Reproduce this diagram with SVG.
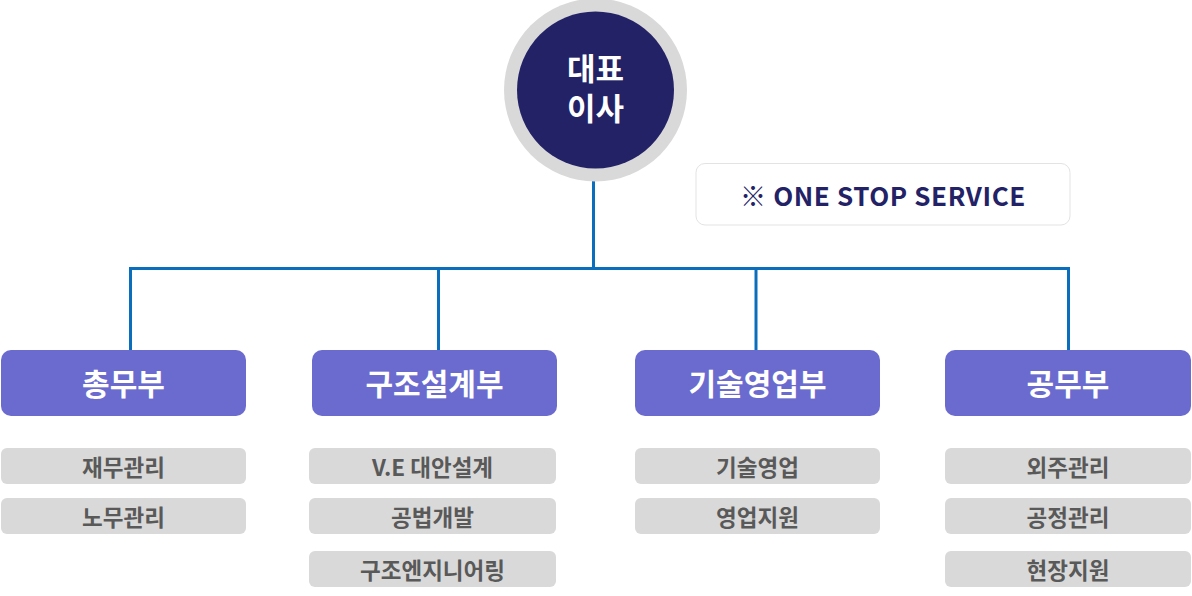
<svg xmlns="http://www.w3.org/2000/svg" width="1192" height="596" viewBox="0 0 1192 596">
<style>
text{font-family:"Noto Sans CJK KR","Noto Sans",sans-serif;font-weight:700;text-anchor:middle;dominant-baseline:central}
.dept rect{fill:#6b6bcf}
.dept text{fill:#fff;font-size:30px}
.sub rect{fill:#d9d9d9}
.sub text{fill:#595959;font-size:22.5px}
.conn{stroke:#0a6ebd;stroke-width:3;fill:none}
.ceo{fill:#fff;font-size:31px;font-family:"Liberation Sans","Noto Sans CJK KR",sans-serif}
</style>
<rect width="1192" height="596" fill="#fff"/>
<g id="connectors">
<path class="conn" d="M593.5 178 V268.5 M130.5 350 V268.5 H1068.5 V350 M438.5 268.5 V350 M756 268.5 V350"/>
</g>
<g id="ceo">
<circle cx="595.5" cy="90" r="91.5" fill="#d9d9d9"/>
<circle cx="595.5" cy="90" r="78.5" fill="#232266"/>
<text class="ceo" x="595.5" y="69">대표</text>
<text class="ceo" x="595.5" y="109">이사</text>
</g>
<g id="onestop">
<rect x="696" y="163.5" width="374" height="61.5" rx="9" fill="#fff" stroke="#e3e3e3" stroke-width="1"/>
<text x="883" y="194" fill="#232266" font-size="26" letter-spacing="0.6" font-family="'Noto Sans','Noto Sans CJK KR',sans-serif">※ ONE STOP SERVICE</text>
</g>
<g id="dept1" class="dept"><rect x="1" y="350" width="245" height="66" rx="10"/><text x="123.5" y="382">총무부</text></g>
<g id="dept2" class="dept"><rect x="312" y="350" width="245" height="66" rx="10"/><text x="434.5" y="382">구조설계부</text></g>
<g id="dept3" class="dept"><rect x="635" y="350" width="245" height="66" rx="10"/><text x="757.5" y="382">기술영업부</text></g>
<g id="dept4" class="dept"><rect x="945" y="350" width="246" height="66" rx="10"/><text x="1068" y="382">공무부</text></g>
<g id="sub1a" class="sub"><rect x="1" y="448" width="245" height="36" rx="6"/><text x="123.5" y="466">재무관리</text></g>
<g id="sub1b" class="sub"><rect x="1" y="498" width="245" height="36" rx="6"/><text x="123.5" y="516">노무관리</text></g>
<g id="sub2a" class="sub"><rect x="309" y="448" width="247" height="36" rx="6"/><text x="432.5" y="466">V.E 대안설계</text></g>
<g id="sub2b" class="sub"><rect x="309" y="498" width="247" height="36" rx="6"/><text x="432.5" y="516">공법개발</text></g>
<g id="sub2c" class="sub"><rect x="309" y="551" width="247" height="36" rx="6"/><text x="432.5" y="569">구조엔지니어링</text></g>
<g id="sub3a" class="sub"><rect x="635" y="448" width="245" height="36" rx="6"/><text x="757.5" y="466">기술영업</text></g>
<g id="sub3b" class="sub"><rect x="635" y="498" width="245" height="36" rx="6"/><text x="757.5" y="516">영업지원</text></g>
<g id="sub4a" class="sub"><rect x="945" y="448" width="246" height="36" rx="6"/><text x="1068" y="466">외주관리</text></g>
<g id="sub4b" class="sub"><rect x="945" y="498" width="246" height="36" rx="6"/><text x="1068" y="516">공정관리</text></g>
<g id="sub4c" class="sub"><rect x="945" y="551" width="246" height="36" rx="6"/><text x="1068" y="569">현장지원</text></g>
</svg>
